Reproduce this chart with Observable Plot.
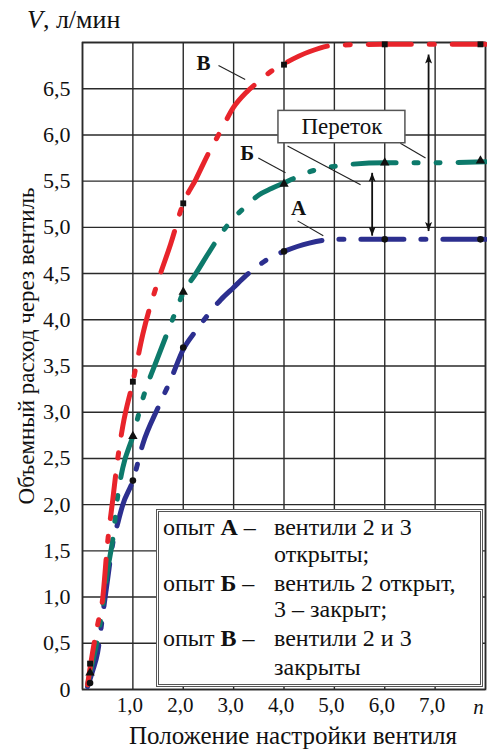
<!DOCTYPE html>
<html><head><meta charset="utf-8">
<script src="https://cdn.jsdelivr.net/npm/d3@7"></script>
<script src="https://cdn.jsdelivr.net/npm/@observablehq/plot@0.6"></script>
<style>
body{margin:0;background:#fff;}
#wrap{position:relative;width:487px;height:749px;overflow:hidden;font-family:"Liberation Serif","Times New Roman",serif;color:#111;}
#wrap svg{position:absolute;left:0;top:0;}
#vlabel{position:absolute;left:27px;top:5px;font-size:26px;line-height:30px;white-space:nowrap;}
#legend{position:absolute;left:156px;top:509px;width:321px;height:172px;border:3px double #555;background:#fff;}
.ln{position:absolute;font-size:24px;white-space:nowrap;line-height:24px;}
</style></head><body><div id="wrap"></div>
<script>
// ---- data ----
const curveX = [0.1, 0.2, 0.3, 0.4, 0.5, 0.6, 0.7, 0.8, 1.0, 1.2, 1.5, 1.75, 2.0, 2.25, 2.5, 2.75, 3.0, 3.25, 3.5, 3.75, 4.0, 4.5, 5.0, 6.0, 7.0, 8.0];
const seriesV = [0.05, 0.4, 0.7, 0.98, 1.6, 2.05, 2.5, 2.85, 3.33, 3.85, 4.42, 4.82, 5.26, 5.52, 5.8, 6.05, 6.3, 6.46, 6.58, 6.69, 6.77, 6.9, 6.97, 6.98, 6.98, 6.98]; // опыт В
const seriesB = [0.05, 0.3, 0.55, 0.9, 1.3, 1.62, 2.1, 2.4, 2.74, 3.15, 3.6, 3.95, 4.29, 4.5, 4.72, 4.93, 5.1, 5.23, 5.35, 5.42, 5.48, 5.6, 5.66, 5.7, 5.7, 5.71]; // опыт Б
const seriesA = [0.03, 0.2, 0.4, 0.8, 1.2, 1.58, 1.8, 2.0, 2.26, 2.66, 3.05, 3.35, 3.68, 3.88, 4.06, 4.22, 4.35, 4.48, 4.59, 4.68, 4.74, 4.83, 4.87, 4.87, 4.87, 4.87]; // опыт А

const markX = [0.15, 1, 2, 4, 6, 7.9];
const markV = [0.28, 3.33, 5.26, 6.76, 6.98, 6.98];
const markB = [0.18, 2.74, 4.3, 5.47, 5.7, 5.72];
const markA = [0.07, 2.26, 3.7, 4.74, 4.87, 4.87];

const xGridTicks = [0, 1, 2, 3, 4, 5, 6, 7, 8];
const xTickLabels = [1, 2, 3, 4, 5, 6, 7];
const yTicks = [0, 0.5, 1, 1.5, 2, 2.5, 3, 3.5, 4, 4.5, 5, 5.5, 6, 6.5];
const yGridTicks = [0, 0.5, 1, 1.5, 2, 2.5, 3, 3.5, 4, 4.5, 5, 5.5, 6, 6.5, 7];

// annotations (data coordinates)
const letterText = ["В", "Б", "А"];
const letterX = [2.4, 3.27, 4.29];
const letterY = [6.78, 5.8, 5.21];
const leaderX1 = [2.7, 3.49, 4.27, 4.07, 6.31];
const leaderY1 = [6.75, 5.75, 5.07, 5.88, 5.91];
const leaderX2 = [3.23, 4.03, 4.78, 5.52, 6.81];
const leaderY2 = [6.6, 5.59, 4.91, 5.46, 5.75];
const boxLabel = "Переток";
const boxX = [3.89, 6.41];
const boxY = [5.91, 6.26];
const arrowX = [5.75, 6.87];
const arrowTop = [5.59, 6.87];
const arrowBottom = [4.91, 4.96];

// ---- build tables ----
const lineTable = (ys) => curveX.map((x, i) => ({x, y: ys[i]}));
const markTable = (ys) => markX.map((x, i) => ({x, y: ys[i]}));
const letters = letterText.map((t, i) => ({t, x: letterX[i], y: letterY[i]}));
const leaders = leaderX1.map((x1, i) => ({x1, y1: leaderY1[i], x2: leaderX2[i], y2: leaderY2[i]}));
const arrows = arrowX.map((x, i) => ({x, y1: arrowTop[i], y2: arrowBottom[i]}));
const fmt = d => d === 0 ? "0" : d.toFixed(1).replace(".", ",");

function filledArrow(color) {
  const m = d3.create("svg:marker")
    .attr("viewBox", "-9 -4 9 8").attr("markerWidth", 9).attr("markerHeight", 8)
    .attr("markerUnits", "userSpaceOnUse").attr("orient", "auto-start-reverse")
    .attr("fill", "#111").attr("stroke", "none");
  m.append("path").attr("d", "M-9,-3.5L0,0L-9,3.5L-7,0Z");
  return m.node();
}

const RED = "#e8242b", TEAL = "#0d7a6b", BLUE = "#2c2f8f";
const FONT = '"Liberation Serif", "Times New Roman", serif';

const chart = Plot.plot({
  width: 487, height: 749,
  marginLeft: 82, marginRight: 2, marginTop: 42, marginBottom: 60,
  x: {domain: [0, 8]},
  y: {domain: [0, 7]},
  style: {fontFamily: FONT, fontSize: "21px", color: "#111", background: "transparent"},
  marks: [
    Plot.gridX({ticks: xGridTicks, stroke: "#2a2a2a", strokeOpacity: 1, strokeWidth: 1.4}),
    Plot.gridY({ticks: yGridTicks, stroke: "#2a2a2a", strokeOpacity: 1, strokeWidth: 1.4}),
    Plot.frame({stroke: "#2a2a2a", strokeWidth: 1.6}),
    Plot.axisY({ticks: yTicks, tickSize: 0, tickPadding: 12, tickFormat: fmt, label: null, fontSize: 22}),
    Plot.axisX({ticks: xTickLabels, tickSize: 0, tickPadding: 8, tickFormat: fmt, label: null, fontSize: 21, dx: -3}),
    Plot.line(lineTable(seriesA), {x: "x", y: "y", stroke: BLUE, strokeWidth: 5, strokeDasharray: "43,17,5,17", curve: "monotone-x"}),
    Plot.line(lineTable(seriesB), {x: "x", y: "y", stroke: TEAL, strokeWidth: 5, strokeDasharray: "43,18,4,18,4,18", curve: "monotone-x"}),
    Plot.line(lineTable(seriesV), {x: "x", y: "y", stroke: RED, strokeWidth: 5, strokeDasharray: "43,18,5,18", curve: "monotone-x"}),
    Plot.dot(markTable(markA), {x: "x", y: "y", symbol: "circle", r: 3.3, fill: "#111"}),
    Plot.dot(markTable(markB), {x: "x", y: "y", symbol: "triangle", r: 3.5, fill: "#111"}),
    Plot.dot(markTable(markV), {x: "x", y: "y", symbol: "square", r: 3.3, fill: "#111"}),
    Plot.link(leaders, {x1: "x1", y1: "y1", x2: "x2", y2: "y2", stroke: "#222", strokeWidth: 1.1}),
    Plot.text(letters, {x: "x", y: "y", text: "t", fontWeight: "bold", fontSize: 21, fill: "#111"}),
    Plot.rect([{x1: boxX[0], x2: boxX[1], y1: boxY[0], y2: boxY[1]}], {x1: "x1", x2: "x2", y1: "y1", y2: "y2", fill: "#fff", stroke: "#555", strokeWidth: 1.5}),
    Plot.text([boxLabel], {x: (boxX[0] + boxX[1]) / 2, y: (boxY[0] + boxY[1]) / 2, fontSize: 23, fill: "#111"}),
    Plot.link(arrows, {x1: "x", x2: "x", y1: "y1", y2: "y2", stroke: "#111", strokeWidth: 1.8, markerStart: filledArrow, markerEnd: filledArrow}),
    Plot.text(["Объемный расход через вентиль"], {frameAnchor: "left", rotate: -90, dx: -56, dy: -20, textAnchor: "middle", lineAnchor: "middle", fontSize: 23, fill: "#111"}),
    Plot.text(["Положение настройки вентиля"], {frameAnchor: "bottom", dx: 9, dy: 46, textAnchor: "middle", lineAnchor: "middle", fontSize: 25, fill: "#111"}),
    Plot.text(["n"], {frameAnchor: "bottom-right", dx: -7, dy: 18, textAnchor: "middle", lineAnchor: "middle", fontStyle: "italic", fontSize: 21, fill: "#111"})
  ]
});

const wrap = document.getElementById("wrap");
wrap.appendChild(chart);

const v = document.createElement("div");
v.id = "vlabel";
v.innerHTML = "<i>V</i>, л/мин";
wrap.appendChild(v);

const legendRows = [
  {left: "опыт <b>А</b> –", right: "вентили 2 и 3", top: 3},
  {left: "", right: "открыты;", top: 30},
  {left: "опыт <b>Б</b> –", right: "вентиль 2 открыт,", top: 59},
  {left: "", right: "3 – закрыт;", top: 85},
  {left: "опыт <b>В</b> –", right: "вентили 2 и 3", top: 114},
  {left: "", right: "закрыты", top: 143}
];
const lg = document.createElement("div");
lg.id = "legend";
legendRows.forEach((r) => {
  if (r.left) {
    const a = document.createElement("div");
    a.className = "ln"; a.style.left = "4px"; a.style.top = r.top + "px"; a.innerHTML = r.left;
    lg.appendChild(a);
  }
  const b = document.createElement("div");
  b.className = "ln"; b.style.left = "115px"; b.style.top = r.top + "px"; b.textContent = r.right;
  lg.appendChild(b);
});
wrap.appendChild(lg);
</script></body></html>
